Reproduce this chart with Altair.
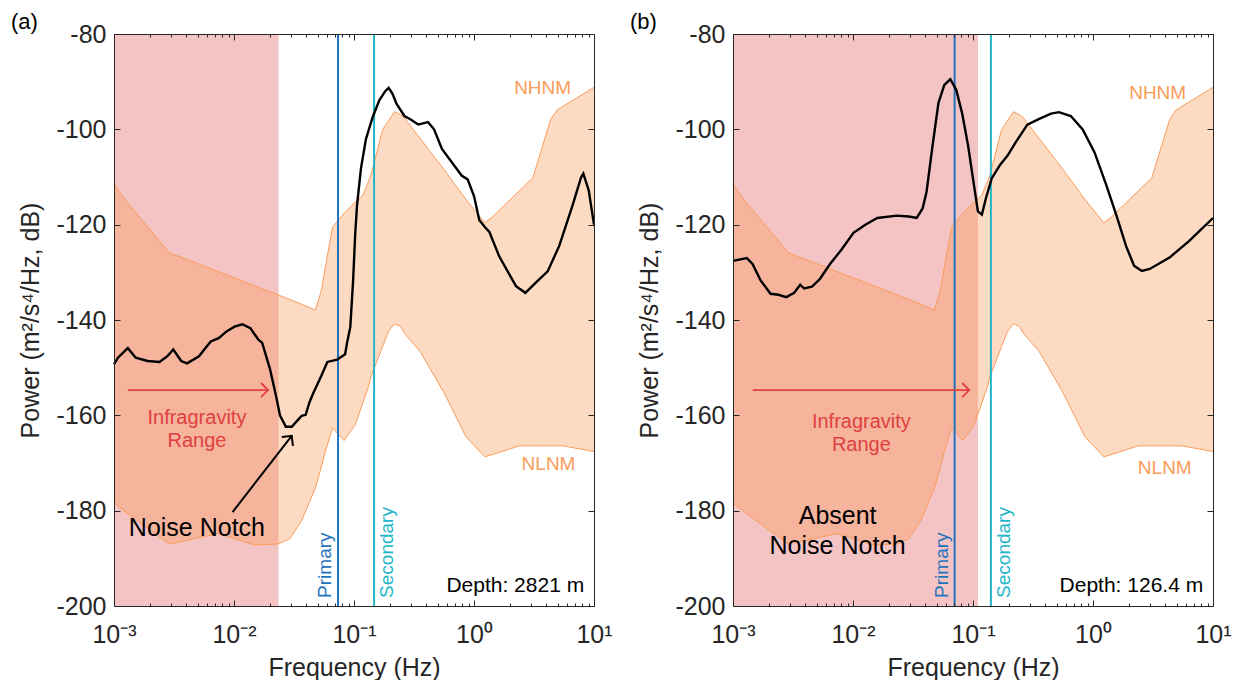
import altair as alt
import numpy as np
import pandas as pd

# ---------------- data ----------------
# Peterson noise model band (log10 frequency, dB)
band_logf = [-3.000, -2.920, -2.539, -2.259, -2.128, -1.831, -1.634, -1.535, -1.436, -1.321,
             -1.272, -1.239, -1.178, -1.083, -0.992, -0.926, -0.877, -0.860, -0.761, -0.712,
             -0.663, -0.614, -0.580, -0.449, -0.251, -0.067, 0.090, 0.144, 0.378, 0.490,
             0.638, 0.689, 0.739, 1.000]
nhnm_db = [-111.5, -114.4, -125.9, -128.6, -129.9, -132.8, -134.7, -135.7, -136.7, -137.9,
           -133.8, -128.9, -120.5, -117.6, -115.3, -113.8, -110.8, -109.7, -100.0, -98.2,
           -96.3, -96.9, -97.6, -101.9, -108.4, -114.7, -119.6, -118.6, -112.9, -110.2,
           -98.0, -96.0, -95.2, -91.2]
nlnm_db = [-178.3, -180.0, -187.0, -185.5, -184.8, -187.2, -187.0, -185.9, -182.1, -175.2,
           -170.8, -167.6, -162.6, -165.3, -162.1, -157.4, -153.8, -152.0, -145.5, -142.4,
           -140.8, -141.3, -142.8, -146.6, -155.2, -164.5, -168.7, -168.3, -166.4, -166.4,
           -166.4, -166.4, -166.4, -167.6]

# panel (a): depth 2821 m
a_logf = [-3.000, -2.967, -2.885, -2.819, -2.720, -2.621, -2.555, -2.506, -2.440, -2.391,
          -2.292, -2.226, -2.193, -2.128, -2.062, -1.996, -1.930, -1.864, -1.798, -1.765,
          -1.700, -1.650, -1.617, -1.568, -1.519, -1.469, -1.436, -1.403, -1.370, -1.337,
          -1.272, -1.222, -1.140, -1.074, -1.058, -1.031, -1.008, -0.990, -0.975, -0.942,
          -0.900, -0.844, -0.789, -0.740, -0.711, -0.680, -0.646, -0.580, -0.531, -0.465,
          -0.383, -0.333, -0.267, -0.185, -0.103, -0.053, 0.000, 0.044, 0.090, 0.128,
          0.211, 0.350, 0.428, 0.517, 0.614, 0.711, 0.822, 0.892, 0.911, 0.956, 1.000]
a_db = [-149.3, -147.9, -145.9, -147.9, -148.6, -148.8, -147.6, -146.2, -148.6, -149.1,
        -147.6, -145.5, -144.5, -143.8, -142.4, -141.4, -140.9, -141.7, -144.1, -144.8,
        -150.3, -155.9, -160.0, -162.4, -162.4, -161.0, -160.1, -159.9, -157.2, -155.2,
        -151.7, -148.8, -148.3, -147.2, -144.8, -141.5, -132.0, -122.0, -116.0, -108.2,
        -102.0, -97.4, -93.9, -92.0, -91.3, -92.5, -94.6, -97.2, -97.9, -99.0,
        -98.5, -100.0, -104.1, -106.9, -109.7, -110.5, -114.0, -119.0, -120.5, -121.5,
        -126.7, -132.9, -134.3, -132.1, -129.8, -124.4, -115.9, -110.1, -109.3, -112.8, -120.0]

# panel (b): depth 126.4 m
b_logf = [-3.000, -2.885, -2.836, -2.770, -2.687, -2.621, -2.556, -2.490, -2.440, -2.407,
          -2.342, -2.276, -2.193, -2.095, -1.996, -1.897, -1.798, -1.634, -1.535, -1.469,
          -1.420, -1.387, -1.337, -1.288, -1.239, -1.189, -1.140, -1.091, -1.041, -0.992,
          -0.959, -0.926, -0.893, -0.844, -0.778, -0.712, -0.646, -0.547, -0.448, -0.350,
          -0.284, -0.185, -0.086, 0.012, 0.111, 0.193, 0.276, 0.342, 0.407, 0.473,
          0.638, 0.802, 1.000]
b_db = [-127.6, -127.0, -128.3, -131.7, -134.5, -134.7, -135.2, -134.3, -132.6, -133.4,
        -133.0, -131.4, -128.3, -125.2, -121.7, -120.0, -118.6, -118.1, -118.3, -118.6,
        -116.6, -113.1, -103.4, -94.5, -90.7, -89.5, -91.7, -96.6, -103.4, -111.7,
        -117.2, -117.9, -114.5, -110.3, -107.6, -105.5, -102.8, -99.0, -97.8, -96.7,
        -96.4, -97.2, -100.0, -104.8, -111.7, -117.9, -124.5, -128.6, -129.7, -129.3,
        -126.9, -123.4, -118.6]

# band limits / marker lines (Hz)
ig_end = {"a": 0.0235, "b": 0.110}
f_primary = {"a": 0.0736, "b": 0.0703}
f_secondary = {"a": 0.147, "b": 0.141}

# annotation anchors (log10 f, dB)
red_arrow = {"a": (-2.885, -1.716, -154.7), "b": (-2.835, -1.031, -154.7)}
ig_text = {"a": (-2.309, -160.5, -165.4), "b": (-1.930, -161.4, -166.2)}
notch_text = {"a": [(-2.309, -183.6, "Noise Notch")],
              "b": [(-2.128, -181.2, "Absent"), (-2.128, -187.4, "Noise Notch")]}
notch_arrow = (-2.012, -180.3, -1.519, -164.3)
depth_text = {"a": "Depth: 2821 m", "b": "Depth: 126.4 m"}
depth_pos = (0.918, -195.7)
nhnm_pos = {"a": (0.572, -91.4), "b": (0.539, -92.3)}
nlnm_pos = {"a": (0.621, -170.3), "b": (0.598, -171.0)}
label_pos_y = -198.3

X_MAJOR = [0.001, 0.01, 0.1, 1, 10]
X_MINOR = [round(m * 10.0 ** k, 6) for k in range(-3, 1) for m in range(2, 10)]
Y_TICKS = [-200, -180, -160, -140, -120, -100, -80]

# ---------------- styling ----------------
W, H = 480, 572
FONT = "Liberation Sans"
AX = "#262626"
PINK = "#f4c3c4"
ORANGE = "#fa9c5a"
RED = "#e0403f"
BLUE = "#1f72bd"
CYAN = "#20b6c8"

xs = alt.Scale(type="log", domain=[0.001, 10])
ys = alt.Scale(domain=[-200, -80], nice=False, zero=False)

x_label_expr = ("datum.value == 0.001 ? '10⁻³' : datum.value == 0.01 ? '10⁻²' : "
                "datum.value == 0.1 ? '10⁻¹' : datum.value == 1 ? '10⁰' : '10¹'")
y_label_expr = "'' + datum.value"


def tick_axis(orient, values, size, domain=False):
    kw = dict(orient=orient, values=values, labels=False, title=None, grid=False,
              domain=domain, domainColor=AX, domainWidth=1, tickColor=AX, tickWidth=1, zindex=2)
    if size > 0:
        kw.update(ticks=True, tickSize=size, offset=-size)
    else:
        kw.update(ticks=False)
    return alt.Axis(**kw)


def panel(key):
    band = pd.DataFrame({"f": 10 ** np.array(band_logf), "lo": nlnm_db, "hi": nhnm_db})
    lf, db = (a_logf, a_db) if key == "a" else (b_logf, b_db)
    curve = pd.DataFrame({"f": 10 ** np.array(lf), "p": db})

    pink = alt.Chart(pd.DataFrame({"f": [0.001], "f2": [ig_end[key]], "p": [-200], "p2": [-80]})).mark_rect(
        color=PINK).encode(
        x=alt.X("f:Q", scale=xs, axis=tick_axis("top", X_MINOR, 3)),
        x2="f2:Q",
        y=alt.Y("p:Q", scale=ys, axis=None),
        y2="p2:Q")

    area = alt.Chart(band).mark_area(color=ORANGE, opacity=0.36).encode(
        x=alt.X("f:Q", scale=xs, axis=tick_axis("top", X_MAJOR, 0, domain=True)),
        y=alt.Y("lo:Q", scale=ys, axis=tick_axis("right", Y_TICKS, 0, domain=True)),
        y2="hi:Q")

    hi_line = alt.Chart(band).mark_line(color=ORANGE, strokeWidth=1).encode(
        x=alt.X("f:Q", scale=xs, axis=tick_axis("bottom", X_MAJOR, 6)),
        y=alt.Y("hi:Q", scale=ys, axis=tick_axis("left", Y_TICKS, 6)))
    lo_line = alt.Chart(band).mark_line(color=ORANGE, strokeWidth=1).encode(
        x=alt.X("f:Q", scale=xs, axis=tick_axis("top", X_MAJOR, 6)),
        y=alt.Y("lo:Q", scale=ys, axis=tick_axis("right", Y_TICKS, 6)))

    vlines = pd.DataFrame({"f": [f_primary[key], f_secondary[key]], "c": ["Primary", "Secondary"]})
    rules = alt.Chart(vlines).mark_rule(strokeWidth=2).encode(
        x=alt.X("f:Q", scale=xs, axis=tick_axis("bottom", X_MINOR, 3)),
        color=alt.Color("c:N", scale=alt.Scale(domain=["Primary", "Secondary"], range=[BLUE, CYAN]),
                        legend=None))

    line = alt.Chart(curve).mark_line(color="black", strokeWidth=2.4).encode(
        x=alt.X("f:Q", scale=xs,
                axis=alt.Axis(orient="bottom", values=X_MAJOR, labelExpr=x_label_expr, title="Frequency (Hz)",
                              ticks=False, domain=True, domainColor=AX, grid=False, labelPadding=16,
                              titlePadding=8, zindex=2, labelFlush=False)),
        y=alt.Y("p:Q", scale=ys,
                axis=alt.Axis(orient="left", values=Y_TICKS, labelExpr=y_label_expr,
                              title="Power (m²/s⁴/Hz, dB)", ticks=False,
                              domain=True, domainColor=AX, grid=False, labelPadding=8, titlePadding=12,
                              zindex=2)))

    x0, x1, yr = red_arrow[key]
    ra = pd.DataFrame({"f": [10 ** x0], "f2": [10 ** x1], "p": [yr]})
    red_rule = alt.Chart(ra).mark_rule(color=RED, strokeWidth=1.8).encode(
        x=alt.X("f:Q", scale=xs, axis=None), x2="f2:Q", y=alt.Y("p:Q", scale=ys, axis=None))
    red_head = alt.Chart(ra).mark_point(shape="M -1 -1 L 0 0 L -1 1", size=200, filled=False,
                                        color=RED, strokeWidth=1.8, opacity=1).encode(
        x=alt.X("f2:Q", scale=xs, axis=None), y=alt.Y("p:Q", scale=ys, axis=None))

    gx, g1, g2 = ig_text[key]
    igt = pd.DataFrame({"f": [10 ** gx, 10 ** gx], "p": [g1, g2], "t": ["Infragravity", "Range"]})
    ig_lbl = alt.Chart(igt).mark_text(color=RED, fontSize=20, font=FONT, baseline="middle").encode(
        x=alt.X("f:Q", scale=xs, axis=None), y=alt.Y("p:Q", scale=ys, axis=None), text="t:N")

    nt = pd.DataFrame({"f": [10 ** r[0] for r in notch_text[key]], "p": [r[1] for r in notch_text[key]],
                       "t": [r[2] for r in notch_text[key]]})
    notch_lbl = alt.Chart(nt).mark_text(color="black", fontSize=25, font=FONT, baseline="middle").encode(
        x=alt.X("f:Q", scale=xs, axis=None), y=alt.Y("p:Q", scale=ys, axis=None), text="t:N")

    vt = pd.DataFrame({"f": [f_primary[key]], "p": [label_pos_y], "t": ["Primary"]})
    prim_lbl = alt.Chart(vt).mark_text(color=BLUE, fontSize=19, font=FONT, angle=270, align="left",
                                       baseline="bottom", dy=-3).encode(
        x=alt.X("f:Q", scale=xs, axis=None), y=alt.Y("p:Q", scale=ys, axis=None), text="t:N")
    st = pd.DataFrame({"f": [f_secondary[key]], "p": [label_pos_y], "t": ["Secondary"]})
    sec_lbl = alt.Chart(st).mark_text(color=CYAN, fontSize=19, font=FONT, angle=270, align="left",
                                      baseline="top", dy=4).encode(
        x=alt.X("f:Q", scale=xs, axis=None), y=alt.Y("p:Q", scale=ys, axis=None), text="t:N")

    dt = pd.DataFrame({"f": [10 ** depth_pos[0]], "p": [depth_pos[1]], "t": [depth_text[key]]})
    depth_lbl = alt.Chart(dt).mark_text(color="black", fontSize=21, font=FONT, align="right",
                                        baseline="middle").encode(
        x=alt.X("f:Q", scale=xs, axis=None), y=alt.Y("p:Q", scale=ys, axis=None), text="t:N")

    mt = pd.DataFrame({"f": [10 ** nhnm_pos[key][0], 10 ** nlnm_pos[key][0]],
                       "p": [nhnm_pos[key][1], nlnm_pos[key][1]], "t": ["NHNM", "NLNM"]})
    model_lbl = alt.Chart(mt).mark_text(color=ORANGE, fontSize=19, font=FONT, baseline="middle").encode(
        x=alt.X("f:Q", scale=xs, axis=None), y=alt.Y("p:Q", scale=ys, axis=None), text="t:N")

    layers = [pink, area, hi_line, lo_line, rules, line, red_rule, red_head, ig_lbl, notch_lbl,
              prim_lbl, sec_lbl, depth_lbl, model_lbl]

    if key == "a":
        na = pd.DataFrame({"f": [10 ** notch_arrow[0]], "p": [notch_arrow[1]],
                           "f2": [10 ** notch_arrow[2]], "p2": [notch_arrow[3]]})
        k_rule = alt.Chart(na).mark_rule(color="black", strokeWidth=2).encode(
            x=alt.X("f:Q", scale=xs, axis=None), y=alt.Y("p:Q", scale=ys, axis=None),
            x2="f2:Q", y2="p2:Q")
        k_head = alt.Chart(na).mark_point(shape="M -1 1 L 0 0 L 1 1", size=200, filled=False, angle=38,
                                          color="black", strokeWidth=2, opacity=1).encode(
            x=alt.X("f2:Q", scale=xs, axis=None), y=alt.Y("p2:Q", scale=ys, axis=None))
        layers += [k_rule, k_head]

    return alt.layer(*layers).resolve_axis(x="independent", y="independent").properties(
        width=W, height=H,
        title=alt.TitleParams(f"({key})", anchor="start", frame="bounds", fontSize=22, fontWeight="normal",
                              font=FONT, color="black", offset=-12, dx=-8))


chart = alt.hconcat(panel("a"), panel("b"), spacing=16).properties(
    padding={"left": 2, "top": 3, "right": 0, "bottom": 0}
).configure_axis(
    labelFont=FONT, titleFont=FONT, labelFontSize=25, titleFontSize=25, labelColor=AX, titleColor=AX,
    titleFontWeight="normal"
).configure_view(strokeWidth=0)

chart.save("out.html", embed_options={"renderer": "svg", "actions": False})
